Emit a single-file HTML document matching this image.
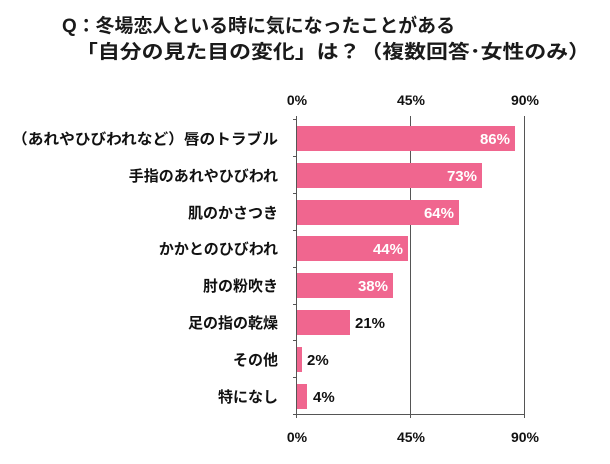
<!DOCTYPE html>
<html><head><meta charset="utf-8"><style>
body{margin:0;background:#fff;}
</style></head><body>
<svg width="610" height="459" xmlns="http://www.w3.org/2000/svg" style="font-family:'Liberation Sans','Noto Sans CJK JP',sans-serif;font-weight:bold">
<text x="62" y="32" font-size="19" fill="#1a1a1a" textLength="393" lengthAdjust="spacingAndGlyphs">Q：冬場恋人といる時に気になったことがある</text>
<text x="76" y="58" font-size="19" fill="#1a1a1a" textLength="514" lengthAdjust="spacingAndGlyphs">「自分の見た目の変化」は？（複数回答･女性のみ）</text>
<g font-size="14" fill="#111">
<text x="297" y="105" text-anchor="middle">0%</text>
<text x="411" y="105" text-anchor="middle">45%</text>
<text x="525" y="105" text-anchor="middle">90%</text>
<text x="297" y="442" text-anchor="middle">0%</text>
<text x="411" y="442" text-anchor="middle">45%</text>
<text x="525" y="442" text-anchor="middle">90%</text>
</g>
<g stroke="#555" stroke-width="1">
<line x1="410.5" y1="116" x2="410.5" y2="418"/>
<line x1="524.5" y1="116" x2="524.5" y2="418"/>
<line x1="296.5" y1="116" x2="296.5" y2="418"/>
<line x1="293" y1="414.5" x2="525" y2="414.5"/>
<line x1="293" y1="119.5" x2="297" y2="119.5"/>
<line x1="293" y1="156.5" x2="297" y2="156.5"/>
<line x1="293" y1="193.5" x2="297" y2="193.5"/>
<line x1="293" y1="230.5" x2="297" y2="230.5"/>
<line x1="293" y1="267.5" x2="297" y2="267.5"/>
<line x1="293" y1="304.5" x2="297" y2="304.5"/>
<line x1="293" y1="340.5" x2="297" y2="340.5"/>
<line x1="293" y1="377.5" x2="297" y2="377.5"/>
</g>
<g fill="#f0668f">
<rect x="297" y="126" width="218" height="25"/>
<rect x="297" y="163" width="185" height="25"/>
<rect x="297" y="200" width="162" height="25"/>
<rect x="297" y="236" width="111" height="25"/>
<rect x="297" y="273" width="96" height="25"/>
<rect x="297" y="310" width="53" height="25"/>
<rect x="297" y="347" width="5" height="25"/>
<rect x="297" y="384" width="10" height="25"/>
</g>
<g font-size="15" fill="#fff" text-anchor="end">
<text x="510" y="144">86%</text>
<text x="477" y="181">73%</text>
<text x="454" y="218">64%</text>
<text x="403" y="254">44%</text>
<text x="388" y="291">38%</text>
</g>
<g font-size="15" fill="#111">
<text x="355" y="328">21%</text>
<text x="307" y="365">2%</text>
<text x="313" y="402">4%</text>
</g>
<g font-size="15" fill="#111" text-anchor="end">
<text x="278" y="144" textLength="266" lengthAdjust="spacingAndGlyphs">（あれやひびわれなど）唇のトラブル</text>
<text x="278" y="181">手指のあれやひびわれ</text>
<text x="278" y="218">肌のかさつき</text>
<text x="278" y="254">かかとのひびわれ</text>
<text x="278" y="291">肘の粉吹き</text>
<text x="278" y="328">足の指の乾燥</text>
<text x="278" y="365">その他</text>
<text x="278" y="402">特になし</text>
</g>
</svg>
</body></html>
